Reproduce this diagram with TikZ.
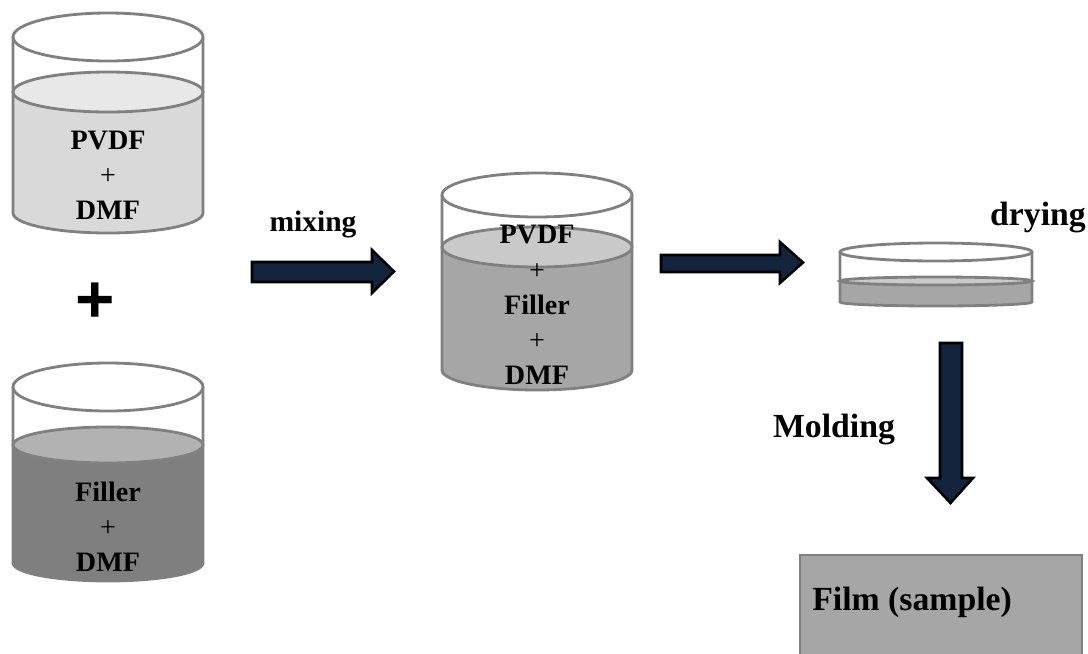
\documentclass[tikz,border=0pt]{standalone}
\usepackage{fontspec}
\setmainfont{Liberation Serif}
\newfontfamily\plusfont{Liberation Sans}
\usetikzlibrary{positioning}
\definecolor{navy}{HTML}{13243C}
\definecolor{rim}{HTML}{808080}
\definecolor{solA}{HTML}{D9D9D9}
\definecolor{solAtop}{HTML}{E8E8E8}
\definecolor{solB}{HTML}{7F7F7F}
\definecolor{solBtop}{HTML}{B2B2B2}
\definecolor{solC}{HTML}{A6A6A6}
\definecolor{solCtop}{HTML}{C9C9C9}
\tikzset{
  cupline/.style={draw=rim, line width=2pt},
  blockarrow/.style={fill=navy, draw=black, line width=1.8pt, line join=miter},
  mixtxt/.style={font=\bfseries\fontsize{20}{25}\selectfont, align=center, inner sep=0pt},
  steptxt/.style={font=\bfseries\fontsize{21}{25}\selectfont, inner sep=0pt},
  bigtxt/.style={font=\bfseries\fontsize{24}{28}\selectfont, inner sep=0pt},
}
\newcommand\pl{{\mdseries +}}
% beaker: x centre, x radius, rim y, rim y radius, level y, level y radius, bottom y, body colour, level colour
\newcommand\beaker[9]{%
  \fill[#8] (#1-#2,#5) -- (#1-#2,#7) arc[start angle=180, end angle=0, x radius=#2, y radius=#6]
    -- (#1+#2,#5) -- cycle;
  \fill[#9] (#1,#5) ellipse[x radius=#2, y radius=#6];
  \draw[cupline] (#1,#5) ellipse[x radius=#2, y radius=#6];
  \draw[cupline, fill=white] (#1,#3) ellipse[x radius=#2, y radius=#4];
  \draw[cupline] (#1-#2,#3) -- (#1-#2,#7) arc[start angle=180, end angle=0, x radius=#2, y radius=#6]
    -- (#1+#2,#3);
}

\begin{document}
\begin{tikzpicture}[x=0.025cm, y=-0.025cm]
\useasboundingbox (0,0) rectangle (1088,653);

% the two starting solutions
\beaker{108}{95}{37}{24}{92}{20}{213}{solA}{solAtop}
\node[mixtxt] (pvdf) at (108,175) {PVDF\\\pl\\DMF};
\node[font=\plusfont\bfseries\fontsize{48}{48}\selectfont, inner sep=0pt] (plus) at (95,303) {+};
\beaker{108}{95}{387}{24}{445}{18}{563}{solB}{solBtop}
\node[mixtxt] (filler) at (108,527) {Filler\\\pl\\DMF};

% mixing
\node[steptxt] (mixing) at (313,225) {mixing};
\draw[blockarrow] (252,262) -- (372,262) -- (372,250) -- (394,271.5) -- (372,293)
  -- (372,282) -- (252,282) -- cycle;

\beaker{537}{95}{195}{22}{247}{20}{370}{solC}{solCtop}
\node[mixtxt] (blend) at (537,305) {PVDF\\\pl\\Filler\\\pl\\DMF};

% drying
\draw[blockarrow] (661,255) -- (780,255) -- (780,242) -- (803,262.5) -- (780,283)
  -- (780,272) -- (661,272) -- cycle;
\beaker{936}{96}{252}{9}{281}{4}{302}{solC}{solCtop}
\node[bigtxt] (drying) at (1038,218) {drying};

% molding
\draw[blockarrow] (940,343) -- (962,343) -- (962,478) -- (973,478) -- (950.5,503)
  -- (927,478) -- (940,478) -- cycle;
\node[bigtxt] (molding) at (834,430) {Molding};

\draw[cupline, fill=solC] (800,555) rectangle (1082,665);
\node[bigtxt, anchor=west] (film) at (812,602) {Film (sample)};
\end{tikzpicture}
\end{document}
